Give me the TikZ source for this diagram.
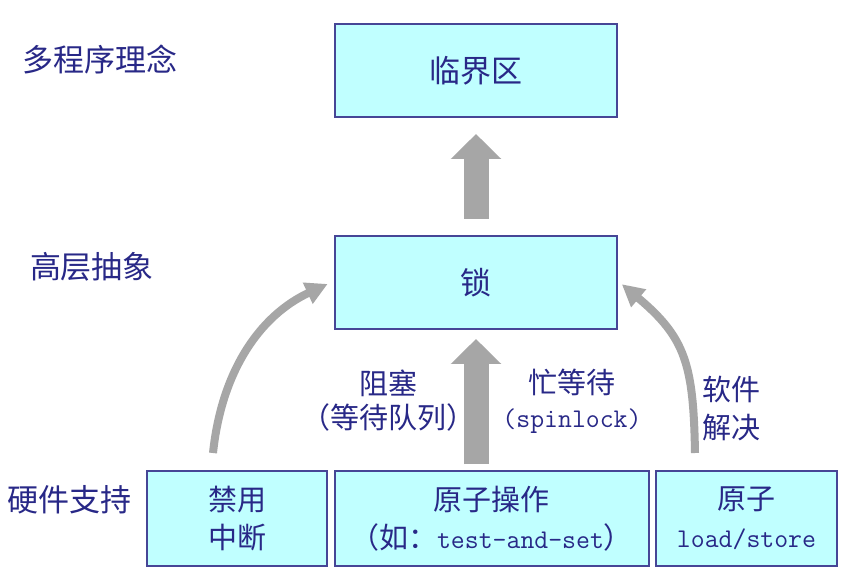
\documentclass[tikz,border=0pt]{standalone}
\usepackage{fontspec}
\setmainfont{Noto Sans CJK SC}
\setmonofont{Latin Modern Mono}
\usetikzlibrary{arrows.meta}
\definecolor{txt}{RGB}{40,40,135}
\definecolor{boxfill}{RGB}{192,255,255}
\definecolor{boxline}{RGB}{70,70,150}
\definecolor{arr}{RGB}{166,166,166}
\tikzset{
  box/.style={draw=boxline, line width=2pt, fill=boxfill, text=txt, inner sep=0pt,
    align=center, font=\fontsize{29}{38}\selectfont},
  bigbox/.style={box, font=\fontsize{31}{38}\selectfont},
  lbl/.style={text=txt, inner sep=0pt, align=center, font=\fontsize{29}{34}\selectfont},
  head/.style={text=txt, inner sep=0pt, font=\fontsize{31}{36}\selectfont},
  bigarrow/.style={draw=arr, line width=25pt, -{Triangle[length=25pt,width=49pt]}},
  curvearrow/.style={draw=arr, line width=8pt, -{Triangle[length=22pt,width=22pt]}}
}
\begin{document}
\begin{tikzpicture}[x=1pt,y=-1pt]
\useasboundingbox[fill=white] (0,0) rectangle (865,577);
% headings
\node[head] (h1) at (100,60) {多程序理念};
\node[head] (h2) at (92,267) {高层抽象};
\node[head] (h3) at (69,500) {硬件支持};
% boxes
\node[bigbox, minimum width=282pt, minimum height=93pt] (cs) at (476,70.5) {临界区};
\node[bigbox, minimum width=282pt, minimum height=93pt] (lock) at (476,282.5) {锁};
\node[box, minimum width=180pt, minimum height=95pt] (b1) at (237,518.5) {禁用\\中断};
\node[box, minimum width=314pt, minimum height=95pt] (b2) at (491.5,518.5) {原子操作\\（如：{\fontsize{27}{38}\selectfont\ttfamily test-and-set}）};
\node[box, minimum width=181pt, minimum height=95pt] (b3) at (746.5,518.5) {原子\\{\fontsize{27}{38}\selectfont\ttfamily load/store}};
% labels
\node[lbl] (l1) at (388,401) {阻塞\\（等待队列）};
\node[lbl] (l2) at (572,401) {忙等待\\{\fontsize{27}{34}\selectfont\ttfamily (spinlock)}};
\node[lbl, font=\fontsize{29}{38}\selectfont] (l3) at (731,409) {软件\\解决};
% thick arrows
\draw[bigarrow, shorten <=16pt, shorten >=16pt] (lock.north) -- (cs.south);
\coordinate (t2) at (lock.south |- b2.north);
\draw[bigarrow, shorten <=6pt, shorten >=9pt] (t2) -- (lock.south);
% curved arrows
\coordinate (lt) at (213,453);
\coordinate (rt) at (695,453);
\draw[curvearrow, shorten >=7pt] (lt) to[out=84,in=205] ([yshift=1.5pt]lock.west);
\draw[curvearrow, shorten >=5pt] (rt) to[out=91,in=-40,looseness=1.2] ([yshift=1.5pt]lock.east);
\end{tikzpicture}
\end{document}
